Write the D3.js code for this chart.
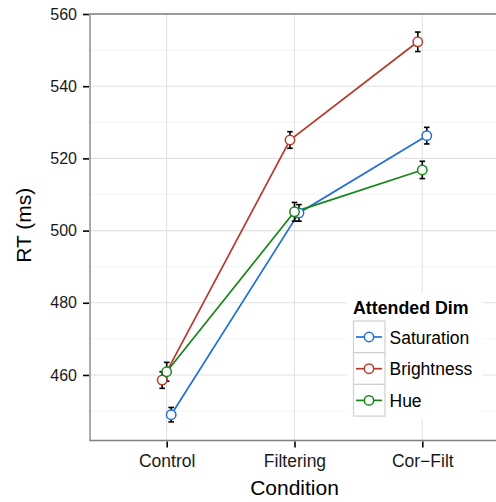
<!DOCTYPE html>
<html>
<head>
<meta charset="utf-8">
<script src="https://d3js.org/d3.v7.min.js"></script>
<style>
body{margin:0;background:#fff;}
text{font-family:"Liberation Sans",Arial,sans-serif;}
</style>
</head>
<body>
<div class="chart"></div>
<script>
// data
var conditions=['Control','Filtering','Cor\u2212Filt'];
var dims=['Saturation','Brightness','Hue'];
var saturation=[449.0,504.9,526.3];
var saturationErr=[2.0,2.3,2.3];
var brightness=[458.6,525.1,552.3];
var brightnessErr=[2.3,2.3,2.7];
var hue=[460.9,505.2,516.8];
var hueErr=[2.6,2.6,2.4];
var yTicks=[460,480,500,520,540,560];
var yMinor=[450,470,490,510,530,550];

var colors={Saturation:'#1f6fd6',Brightness:'#b83a2c',Hue:'#17861a'};
var dodge={Brightness:-4.5,Hue:0,Saturation:4.5};
var series=[
    {name:'Saturation',vals:saturation,err:saturationErr},
    {name:'Brightness',vals:brightness,err:brightnessErr},
    {name:'Hue',vals:hue,err:hueErr}
];

var W=496,H=502;
var pL=90,pT=14,pB=440.5,pR=W+10;

var svg=d3.select('.chart').append('svg').attr('width',W).attr('height',H);

var x=d3.scalePoint().domain(conditions).range([pL,pL+127.8*3.2]).padding(0.6);
var y=d3.scaleLinear().domain([441.85,560]).range([pB,pT]);

// grid
var grid=svg.append('g');
grid.selectAll('.minor').data(yMinor).enter().append('line')
    .attr('x1',pL).attr('x2',pR).attr('y1',d=>y(d)).attr('y2',d=>y(d))
    .attr('stroke','#f3f3f3').attr('stroke-width',1);
grid.selectAll('.major').data(yTicks).enter().append('line')
    .attr('x1',pL).attr('x2',pR).attr('y1',d=>y(d)).attr('y2',d=>y(d))
    .attr('stroke','#e2e2e2').attr('stroke-width',1.1);
grid.selectAll('.vmajor').data(conditions).enter().append('line')
    .attr('x1',d=>x(d)).attr('x2',d=>x(d)).attr('y1',pT).attr('y2',pB)
    .attr('stroke','#e2e2e2').attr('stroke-width',1.1);

// lines
var line=d3.line().x(d=>d[0]).y(d=>d[1]);
series.forEach(function(s){
    var pts=conditions.map((c,i)=>[x(c)+dodge[s.name],y(s.vals[i])]);
    svg.append('path').attr('d',line(pts)).attr('fill','none')
        .attr('stroke',colors[s.name]).attr('stroke-width',1.7);
});

// error bars
series.forEach(function(s){
    var g=svg.append('g');
    conditions.forEach(function(c,i){
        var cx=x(c)+dodge[s.name];
        var y1=y(s.vals[i]-s.err[i]),y2=y(s.vals[i]+s.err[i]);
        g.append('line').attr('x1',cx).attr('x2',cx).attr('y1',y1).attr('y2',y2)
            .attr('stroke','#000').attr('stroke-width',1.6);
        [y1,y2].forEach(function(yy){
            g.append('line').attr('x1',cx-2.8).attr('x2',cx+2.8).attr('y1',yy).attr('y2',yy)
                .attr('stroke','#000').attr('stroke-width',1.6);
        });
    });
});

// points
series.forEach(function(s){
    svg.append('g').selectAll('circle').data(s.vals).enter().append('circle')
        .attr('cx',(d,i)=>x(conditions[i])+dodge[s.name]).attr('cy',d=>y(d))
        .attr('r',4.7).attr('fill','#fff').attr('stroke',colors[s.name]).attr('stroke-width',1.5);
});

// panel border
svg.append('path').attr('d',`M${pR},${pT}H${pL}V${pB}H${pR}`)
    .attr('fill','none').attr('stroke','#7f7f7f').attr('stroke-width',1.3);

// axes
var yAxis=svg.append('g').attr('transform',`translate(${pL-1},0)`)
    .call(d3.axisLeft(y).tickValues(yTicks).tickSize(6).tickPadding(6));
var xAxis=svg.append('g').attr('transform',`translate(0,${pB+1})`)
    .call(d3.axisBottom(x).tickSize(6).tickPadding(7));
[yAxis,xAxis].forEach(function(a){
    a.select('.domain').remove();
    a.selectAll('.tick line').attr('stroke','#000').attr('stroke-width',1.6);
    a.selectAll('.tick text').attr('fill','#1a1a1a')
        .style('font-family','"Liberation Sans",Arial,sans-serif');
});
yAxis.selectAll('.tick text').style('font-size','16px');
xAxis.selectAll('.tick text').style('font-size','17.5px');

svg.append('text').attr('x',294.5).attr('y',495).attr('text-anchor','middle')
    .style('font-size','21px').attr('fill','#000').text('Condition');
svg.append('text').attr('transform',`translate(31,${(pT+pB)/2-2}) rotate(-90)`)
    .attr('text-anchor','middle').style('font-size','21px').attr('fill','#000').text('RT (ms)');

// legend
var lg=svg.append('g').attr('transform','translate(347,292)');
lg.append('rect').attr('x',0).attr('y',0).attr('width',136).attr('height',128).attr('fill','#fff');
lg.append('text').attr('x',6).attr('y',21.5).style('font-size','17.8px').style('font-weight','bold')
    .attr('fill','#000').text('Attended Dim');
dims.forEach(function(d,i){
    var ky=29+i*31.7;
    lg.append('rect').attr('x',6.5).attr('y',ky).attr('width',31.5).attr('height',31.7)
        .attr('fill','#fff').attr('stroke','#d0d0d0').attr('stroke-width',1.2);
    lg.append('line').attr('x1',9).attr('x2',35).attr('y1',ky+16).attr('y2',ky+16)
        .attr('stroke',colors[d]).attr('stroke-width',1.7);
    lg.append('circle').attr('cx',22).attr('cy',ky+16).attr('r',4.7).attr('fill','#fff')
        .attr('stroke',colors[d]).attr('stroke-width',1.5);
    lg.append('text').attr('x',42.5).attr('y',ky+22.5).style('font-size','17.5px')
        .attr('fill','#000').text(d);
});
</script>
</body>
</html>
